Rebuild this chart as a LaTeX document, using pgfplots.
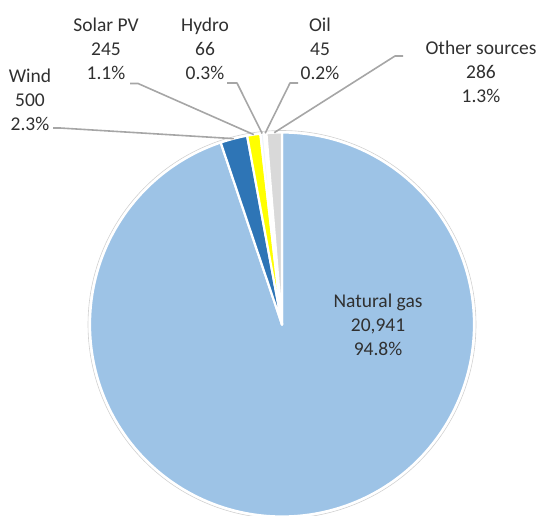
\documentclass[border=0pt]{standalone}
\usepackage{pgfplots}
\pgfplotsset{compat=1.18}
\usepackage{pgfplotstable}
\usepackage{fontspec}
\setmainfont{Carlito}

\definecolor{gasblue}{HTML}{9DC3E6}
\definecolor{windblue}{HTML}{2E75B6}
\definecolor{solaryellow}{HTML}{FFFF00}
\definecolor{hydrotint}{HTML}{EEF4FA}
\definecolor{oiltint}{HTML}{F7F7F7}
\definecolor{othergray}{HTML}{D9D9D9}
\definecolor{leadergray}{HTML}{A6A6A6}
\definecolor{labeltext}{HTML}{303030}

% Electricity generation by source
\pgfplotstableread[col sep=comma,row sep=\\]{
source,value\\
Natural gas,20941\\
Wind,500\\
Solar PV,245\\
Hydro,66\\
Oil,45\\
Other sources,286\\
}\energytable

% pie geometry (centre and radius in axis units)
\def\cx{282}
\def\cy{324.5}
\def\R{192}

% total and cumulative cut angles, clockwise from 12 o'clock
\def\total{0}
\pgfplotsforeachungrouped \i in {0,...,5}{%
  \pgfplotstablegetelem{\i}{value}\of\energytable
  \edef\total{\fpeval{\total+\pgfplotsretval}}%
}
\expandafter\def\csname a0\endcsname{90}
\def\cum{0}
\pgfplotsforeachungrouped \i in {0,...,5}{%
  \pgfplotstablegetelem{\i}{value}\of\energytable
  \edef\half{\fpeval{\cum+\pgfplotsretval/2}}%
  \edef\cum{\fpeval{\cum+\pgfplotsretval}}%
  \pgfmathtruncatemacro\j{\i+1}%
  \expandafter\edef\csname a\j\endcsname{\fpeval{round(90-360*\cum/\total,4)}}%
  \expandafter\edef\csname mx\i\endcsname{\fpeval{round(\cx+\R*cosd(90-360*\half/\total),3)}}%
  \expandafter\edef\csname my\i\endcsname{\fpeval{round(\cy-\R*sind(90-360*\half/\total),3)}}%
}

% one filled sector between cut angles #1 and #2
\newcommand\pieslice[4]{%
  \edef\tmp{\noexpand\addplot[fill=#3, draw=white, line width=2.2bp,
      line join=round, samples=#4, variable=\noexpand\t,
      domain=\csname a#2\endcsname:\csname a#1\endcsname]
    ({\cx+\R*cos(\noexpand\t)},{\cy-\R*sin(\noexpand\t)})
    -- (axis cs:\cx,\cy) -- cycle;}%
  \tmp}

% leader line: label end, elbow, middle of slice #1 on the rim
\newcommand\leader[5]{%
  \edef\tmp{\noexpand\draw[leadergray, line width=1.6bp, line join=round]
    (axis cs:#2,#3) -- (axis cs:#4,#5)
    -- (axis cs:\csname mx#1\endcsname,\csname my#1\endcsname);}%
  \tmp}

\newcommand\labelfont{\fontsize{19.5bp}{24.3bp}\selectfont}

\begin{document}
\begin{tikzpicture}
\begin{axis}[hide axis, x=1bp, y=1bp, xmin=0, xmax=540, ymin=0, ymax=516,
  y dir=reverse, clip=false]
  % faint outline around the pie
  \addplot[draw=black!18, line width=0.6bp, domain=0:360, samples=240,
    variable=\t] ({\cx+(\R+2)*cos(t)},{\cy-(\R+2)*sin(t)});
  \pieslice{0}{1}{gasblue}{240}
  \pieslice{1}{2}{windblue}{8}
  \pieslice{2}{3}{solaryellow}{6}
  \pieslice{3}{4}{hydrotint}{4}
  \pieslice{4}{5}{oiltint}{4}
  \pieslice{5}{6}{othergray}{6}

  \leader{1}{53}{128}{60}{128}
  \leader{2}{130}{83.5}{138}{83.5}
  \leader{3}{227}{83}{237}{83}
  \leader{4}{298}{83}{290}{83}
  \leader{5}{403}{56}{395}{56}

  \begin{scope}[every node/.style={align=center, font=\labelfont, text=labeltext}]
    \node at (axis cs:378,325) {Natural gas\\20,941\\94.8\%};
    \node at (axis cs:30,100) {Wind\\500\\2.3\%};
    \node at (axis cs:106,49) {Solar PV\\245\\1.1\%};
    \node at (axis cs:205,49) {Hydro\\66\\0.3\%};
    \node at (axis cs:320,49) {Oil\\45\\0.2\%};
    \node at (axis cs:481,72) {Other sources\\286\\1.3\%};
  \end{scope}
\end{axis}
\pgfresetboundingbox
\path (current axis.south west) rectangle (current axis.north east);
\end{tikzpicture}
\end{document}
